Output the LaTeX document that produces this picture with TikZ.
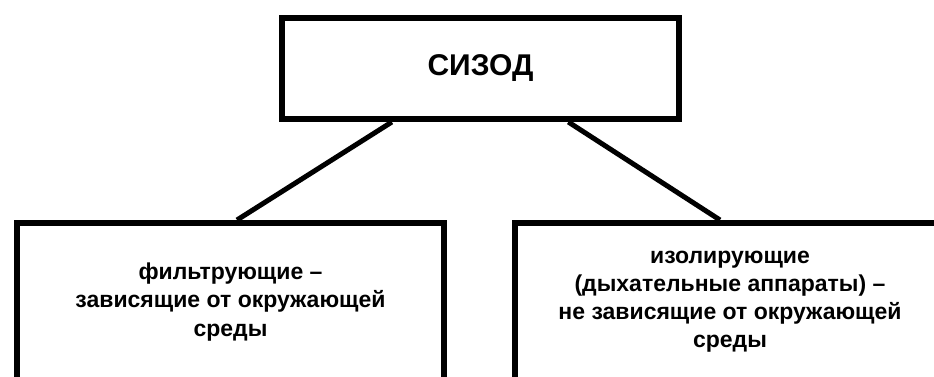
\documentclass[tikz,border=0pt]{standalone}
\usepackage{fontspec}
\setmainfont{Liberation Sans}
\usetikzlibrary{positioning,calc}

\begin{document}
\begin{tikzpicture}[x=1pt,y=1pt,
    box/.style={draw, line width=6pt, fill=white, align=center, inner sep=0pt},
    link/.style={line width=5pt}]
    \useasboundingbox (0,0) rectangle (934,376);
    \clip (0,0) rectangle (934,376);

    % Top box
    \node[box, minimum width=397, minimum height=101,
          font=\fontsize{30}{34}\selectfont\bfseries] (sizod) at (480.5,307.5) {СИЗОД};

    % Lower boxes (run out at the bottom)
    \node[box, minimum width=427, minimum height=158,
          font=\fontsize{23}{28.5}\selectfont\bfseries] (filt) at (230.5,74)
          {фильтрующие –\\зависящие от окружающей\\среды};
    \node[box, minimum width=430, minimum height=158,
          font=\fontsize{23}{28}\selectfont\bfseries] (izol) at (730,74)
          {изолирующие\\(дыхательные аппараты) –\\не зависящие от окружающей\\среды};

    % Connectors
    \draw[link] ($(sizod.south west)!0.28!(sizod.south east)$) -- ($(filt.north west)!0.515!(filt.north east)$);
    \draw[link] ($(sizod.south west)!0.718!(sizod.south east)$) -- ($(izol.north west)!0.477!(izol.north east)$);
\end{tikzpicture}
\end{document}
